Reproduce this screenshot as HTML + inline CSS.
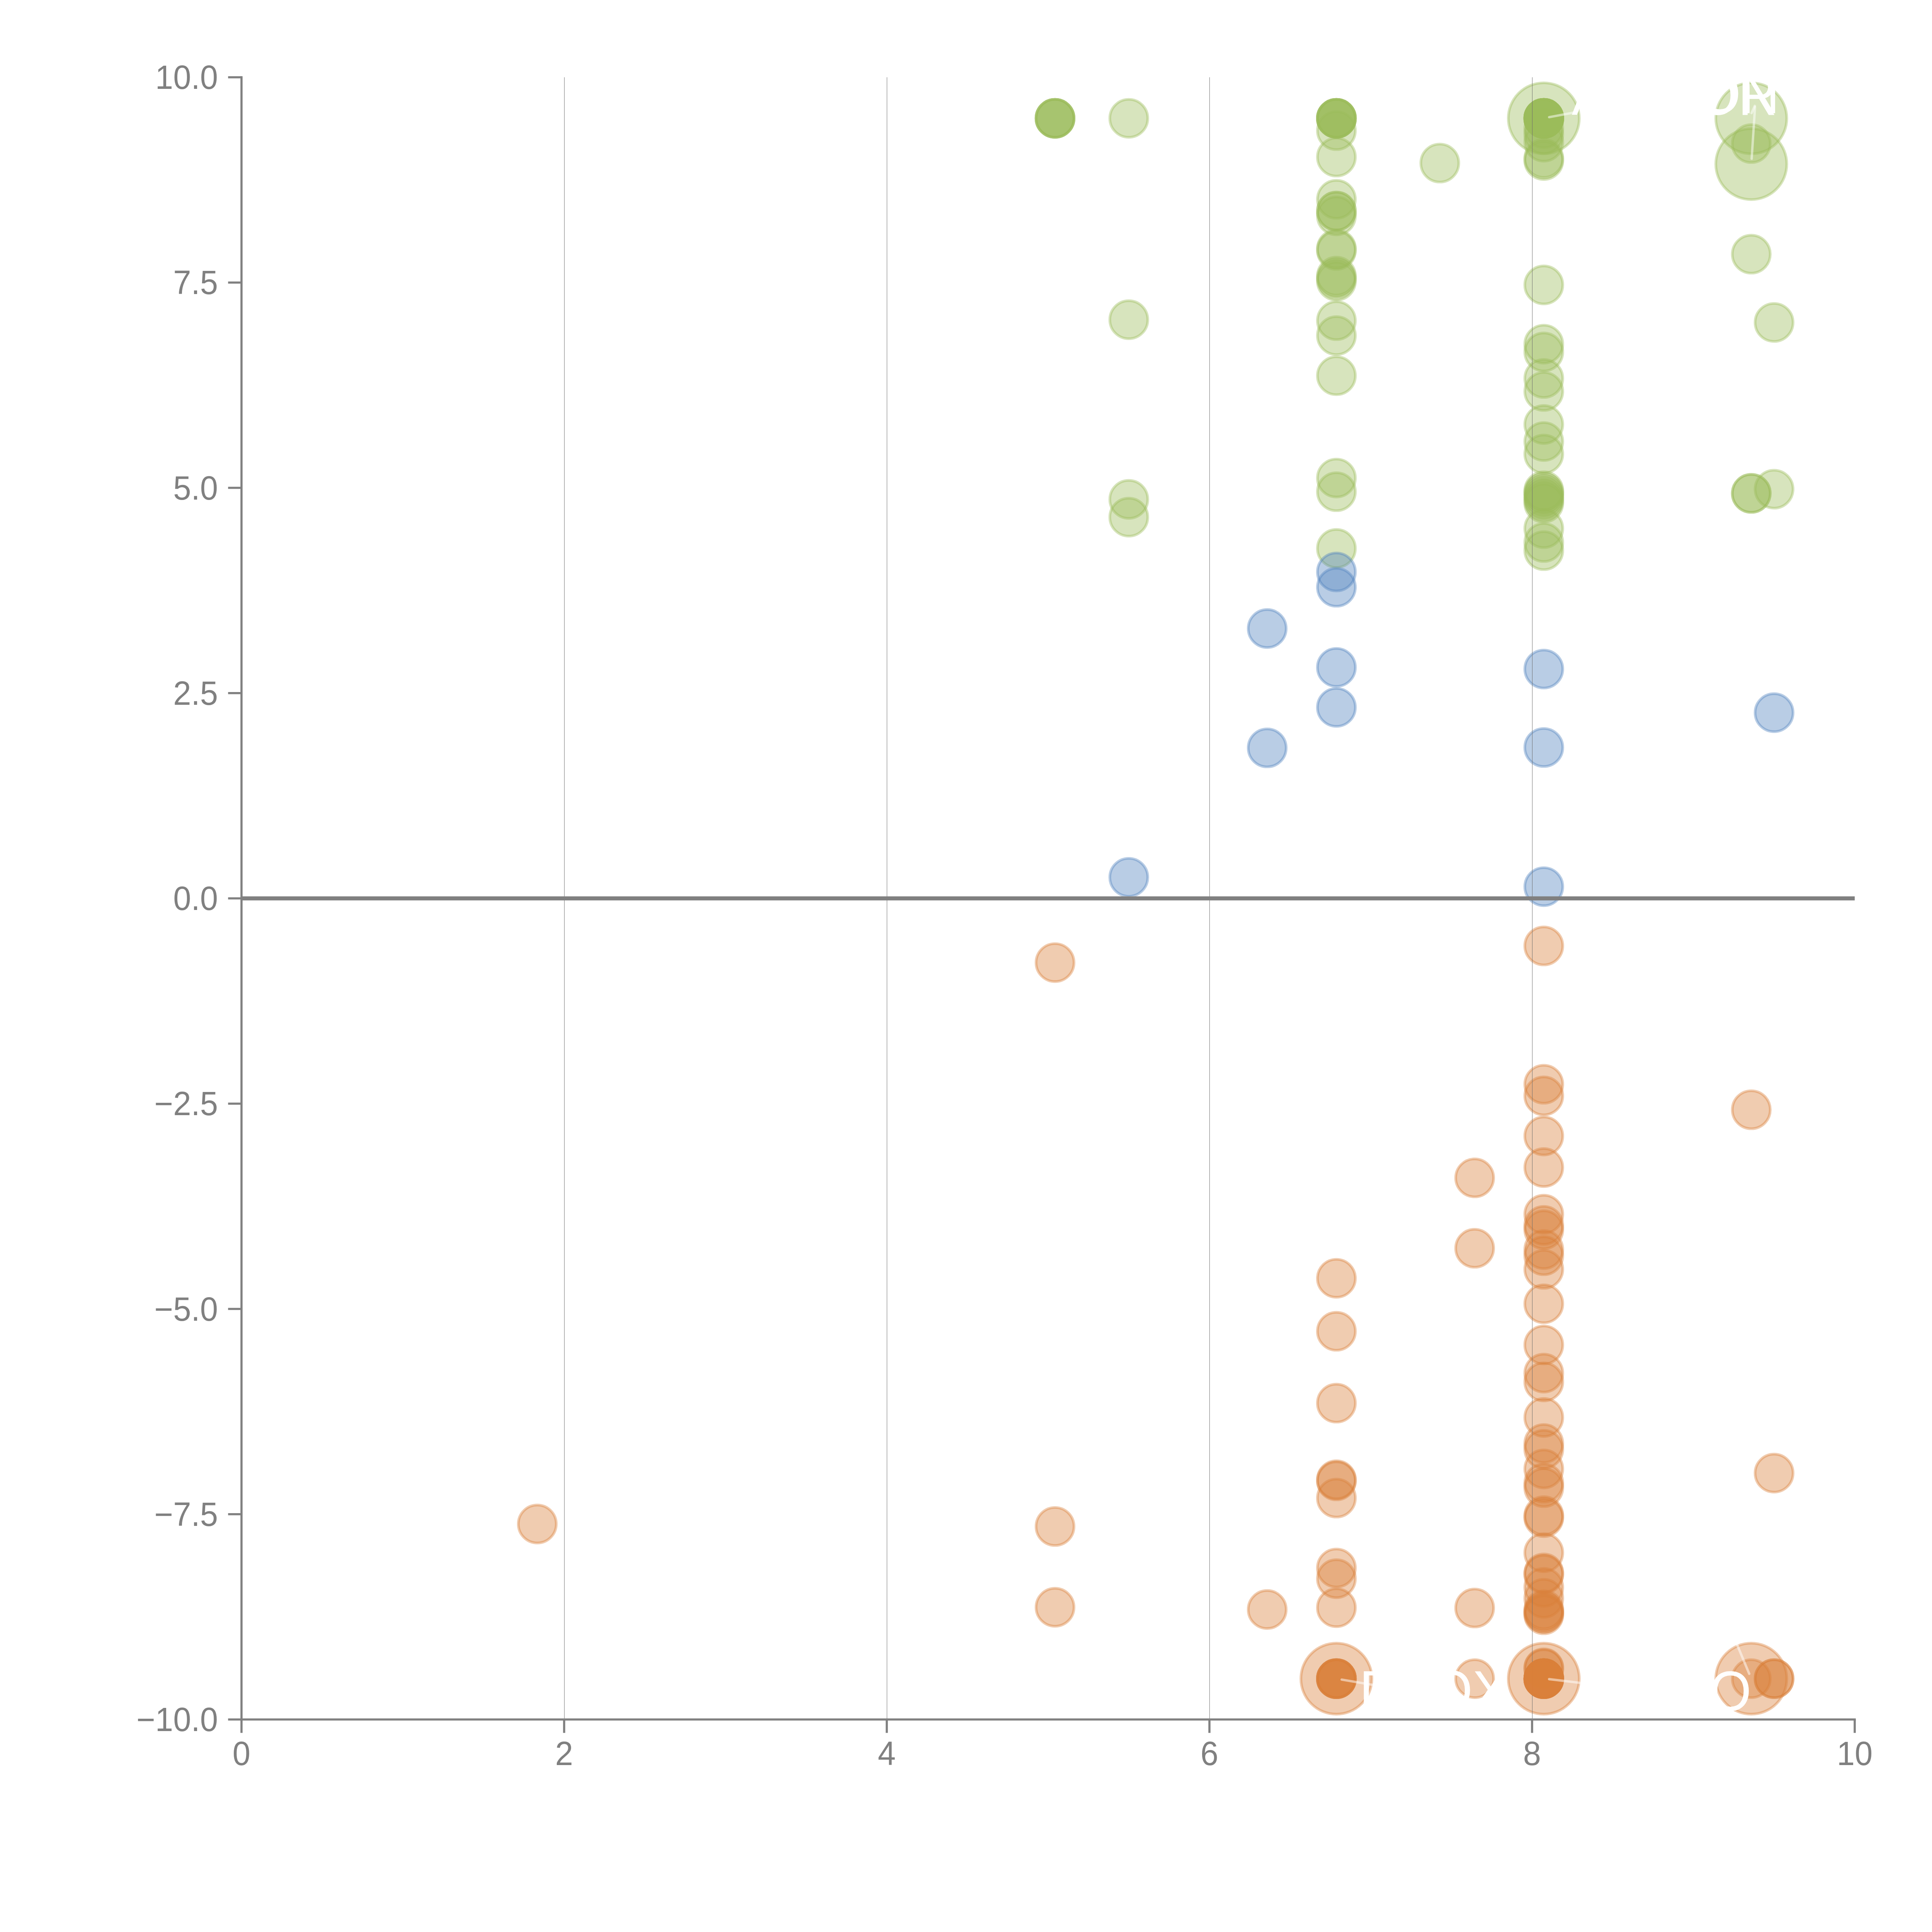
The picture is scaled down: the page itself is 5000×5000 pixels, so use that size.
<!DOCTYPE html>
<html lang="en"><head><meta charset="utf-8"><title>Scatter</title>
<style>html,body{margin:0;padding:0;background:#fff}body{width:5000px;height:5000px;overflow:hidden}svg{display:block}.tk{font-family:"Liberation Sans",Arial,sans-serif;font-size:83.33px;fill:#808080}.lb{font-family:"Liberation Sans",Arial,sans-serif;font-size:138.9px;fill:#fff}</style></head><body>
<svg width="5000" height="5000" viewBox="0 0 5000 5000">
<rect width="5000" height="5000" fill="#fff"/>
<g fill="#9BBB59" fill-opacity="0.4" stroke="#9BBB59" stroke-opacity="0.4" stroke-width="6.94">
<circle cx="2730.4" cy="306.2" r="49.1"/>
<circle cx="2730.4" cy="306.2" r="49.1"/>
<circle cx="2730.4" cy="306.2" r="49.1"/>
<circle cx="2730.4" cy="306.2" r="49.1"/>
<circle cx="2921.3" cy="306.2" r="49.1"/>
<circle cx="2921.3" cy="827.4" r="49.1"/>
<circle cx="2921.3" cy="1292.4" r="49.1"/>
<circle cx="2921.3" cy="1338.4" r="49.1"/>
<circle cx="3458.6" cy="338.0" r="49.1"/>
<circle cx="3458.6" cy="406.5" r="49.1"/>
<circle cx="3458.6" cy="515.8" r="49.1"/>
<circle cx="3458.6" cy="546.3" r="49.1"/>
<circle cx="3458.6" cy="546.3" r="49.1"/>
<circle cx="3458.6" cy="558.7" r="49.1"/>
<circle cx="3458.6" cy="644.0" r="49.1"/>
<circle cx="3458.6" cy="648.0" r="49.1"/>
<circle cx="3458.6" cy="714.6" r="49.1"/>
<circle cx="3458.6" cy="720.3" r="49.1"/>
<circle cx="3458.6" cy="727.6" r="49.1"/>
<circle cx="3458.6" cy="829.8" r="49.1"/>
<circle cx="3458.6" cy="868.5" r="49.1"/>
<circle cx="3458.6" cy="972.3" r="49.1"/>
<circle cx="3458.6" cy="1237.2" r="49.1"/>
<circle cx="3458.6" cy="1272.5" r="49.1"/>
<circle cx="3458.6" cy="1419.4" r="49.1"/>
<circle cx="3458.6" cy="306.2" r="49.1"/>
<circle cx="3458.6" cy="306.2" r="49.1"/>
<circle cx="3458.6" cy="306.2" r="49.1"/>
<circle cx="3458.6" cy="306.2" r="49.1"/>
<circle cx="3458.6" cy="306.2" r="49.1"/>
<circle cx="3726.2" cy="422.0" r="49.1"/>
<circle cx="3995.3" cy="306.2" r="91.85"/>
<circle cx="3995.3" cy="332.9" r="49.1"/>
<circle cx="3995.3" cy="348.1" r="49.1"/>
<circle cx="3995.3" cy="367.9" r="49.1"/>
<circle cx="3995.3" cy="409.9" r="49.1"/>
<circle cx="3995.3" cy="415.4" r="49.1"/>
<circle cx="3995.3" cy="737.4" r="49.1"/>
<circle cx="3995.3" cy="890.7" r="49.1"/>
<circle cx="3995.3" cy="910.9" r="49.1"/>
<circle cx="3995.3" cy="979.5" r="49.1"/>
<circle cx="3995.3" cy="1013.0" r="49.1"/>
<circle cx="3995.3" cy="1098.6" r="49.1"/>
<circle cx="3995.3" cy="1142.7" r="49.1"/>
<circle cx="3995.3" cy="1175.0" r="49.1"/>
<circle cx="3995.3" cy="1270.0" r="49.1"/>
<circle cx="3995.3" cy="1275.0" r="49.1"/>
<circle cx="3995.3" cy="1281.0" r="49.1"/>
<circle cx="3995.3" cy="1288.0" r="49.1"/>
<circle cx="3995.3" cy="1295.0" r="49.1"/>
<circle cx="3995.3" cy="1302.0" r="49.1"/>
<circle cx="3995.3" cy="1368.0" r="49.1"/>
<circle cx="3995.3" cy="1404.0" r="49.1"/>
<circle cx="3995.3" cy="1425.0" r="49.1"/>
<circle cx="3995.3" cy="306.2" r="49.1"/>
<circle cx="3995.3" cy="306.2" r="49.1"/>
<circle cx="3995.3" cy="306.2" r="49.1"/>
<circle cx="3995.3" cy="306.2" r="49.1"/>
<circle cx="3995.3" cy="306.2" r="49.1"/>
<circle cx="3995.3" cy="306.2" r="49.1"/>
<circle cx="3995.3" cy="306.2" r="49.1"/>
<circle cx="3995.3" cy="306.2" r="49.1"/>
<circle cx="4532.3" cy="306.2" r="91.85"/>
<circle cx="4532.3" cy="424.6" r="91.85"/>
<circle cx="4532.3" cy="371.5" r="49.1"/>
<circle cx="4532.3" cy="657.8" r="49.1"/>
<circle cx="4532.3" cy="1276.8" r="49.1"/>
<circle cx="4532.3" cy="1276.8" r="49.1"/>
<circle cx="4591.3" cy="834.5" r="49.1"/>
<circle cx="4591.3" cy="1266.0" r="49.1"/>
</g>
<g fill="#4F81BD" fill-opacity="0.4" stroke="#4F81BD" stroke-opacity="0.4" stroke-width="6.94">
<circle cx="3279.5" cy="1626.6" r="49.1"/>
<circle cx="3279.5" cy="1935.5" r="49.1"/>
<circle cx="2921.3" cy="2270.5" r="49.1"/>
<circle cx="3458.6" cy="1480.2" r="49.1"/>
<circle cx="3458.6" cy="1519.8" r="49.1"/>
<circle cx="3458.6" cy="1727.2" r="49.1"/>
<circle cx="3458.6" cy="1830.7" r="49.1"/>
<circle cx="3995.3" cy="1731.5" r="49.1"/>
<circle cx="3995.3" cy="1934.5" r="49.1"/>
<circle cx="3995.3" cy="2294.7" r="49.1"/>
<circle cx="4591.3" cy="1844.4" r="49.1"/>
</g>
<g fill="#D9803A" fill-opacity="0.4" stroke="#D9803A" stroke-opacity="0.4" stroke-width="6.94">
<circle cx="1390.5" cy="3944.1" r="49.1"/>
<circle cx="2730.4" cy="2491.2" r="49.1"/>
<circle cx="2730.4" cy="3950.5" r="49.1"/>
<circle cx="2730.4" cy="4159.6" r="49.1"/>
<circle cx="3279.5" cy="4165.4" r="49.1"/>
<circle cx="3458.6" cy="4344.4" r="91.85"/>
<circle cx="3458.6" cy="3308.2" r="49.1"/>
<circle cx="3458.6" cy="3445.3" r="49.1"/>
<circle cx="3458.6" cy="3631.3" r="49.1"/>
<circle cx="3458.6" cy="3829.5" r="49.1"/>
<circle cx="3458.6" cy="3832.5" r="49.1"/>
<circle cx="3458.6" cy="3877.0" r="49.1"/>
<circle cx="3458.6" cy="4058.0" r="49.1"/>
<circle cx="3458.6" cy="4085.6" r="49.1"/>
<circle cx="3458.6" cy="4160.7" r="49.1"/>
<circle cx="3458.6" cy="4344.4" r="49.1"/>
<circle cx="3458.6" cy="4344.4" r="49.1"/>
<circle cx="3458.6" cy="4344.4" r="49.1"/>
<circle cx="3458.6" cy="4344.4" r="49.1"/>
<circle cx="3458.6" cy="4344.4" r="49.1"/>
<circle cx="3816.4" cy="3048.3" r="49.1"/>
<circle cx="3816.4" cy="3230.5" r="49.1"/>
<circle cx="3816.4" cy="4161.5" r="49.1"/>
<circle cx="3816.4" cy="4344.4" r="49.1"/>
<circle cx="3995.3" cy="4344.4" r="91.85"/>
<circle cx="3995.3" cy="2448.0" r="49.1"/>
<circle cx="3995.3" cy="2806.0" r="49.1"/>
<circle cx="3995.3" cy="2836.1" r="49.1"/>
<circle cx="3995.3" cy="2939.9" r="49.1"/>
<circle cx="3995.3" cy="3021.6" r="49.1"/>
<circle cx="3995.3" cy="3142.4" r="49.1"/>
<circle cx="3995.3" cy="3171.2" r="49.1"/>
<circle cx="3995.3" cy="3182.6" r="49.1"/>
<circle cx="3995.3" cy="3233.9" r="49.1"/>
<circle cx="3995.3" cy="3249.8" r="49.1"/>
<circle cx="3995.3" cy="3285.0" r="49.1"/>
<circle cx="3995.3" cy="3374.2" r="49.1"/>
<circle cx="3995.3" cy="3480.7" r="49.1"/>
<circle cx="3995.3" cy="3553.6" r="49.1"/>
<circle cx="3995.3" cy="3576.4" r="49.1"/>
<circle cx="3995.3" cy="3668.4" r="49.1"/>
<circle cx="3995.3" cy="3735.7" r="49.1"/>
<circle cx="3995.3" cy="3750.7" r="49.1"/>
<circle cx="3995.3" cy="3801.6" r="49.1"/>
<circle cx="3995.3" cy="3838.0" r="49.1"/>
<circle cx="3995.3" cy="3850.0" r="49.1"/>
<circle cx="3995.3" cy="3922.5" r="49.1"/>
<circle cx="3995.3" cy="3927.6" r="49.1"/>
<circle cx="3995.3" cy="4018.4" r="49.1"/>
<circle cx="3995.3" cy="4070.9" r="49.1"/>
<circle cx="3995.3" cy="4074.5" r="49.1"/>
<circle cx="3995.3" cy="4108.1" r="49.1"/>
<circle cx="3995.3" cy="4136.4" r="49.1"/>
<circle cx="3995.3" cy="4166.0" r="49.1"/>
<circle cx="3995.3" cy="4171.0" r="49.1"/>
<circle cx="3995.3" cy="4175.0" r="49.1"/>
<circle cx="3995.3" cy="4179.0" r="49.1"/>
<circle cx="3995.3" cy="4316.4" r="49.1"/>
<circle cx="3995.3" cy="4318.6" r="49.1"/>
<circle cx="4532.3" cy="4344.4" r="91.85"/>
<circle cx="4532.3" cy="2872.0" r="49.1"/>
<circle cx="4532.3" cy="4344.4" r="49.1"/>
<circle cx="4591.3" cy="3812.4" r="49.1"/>
<circle cx="4591.3" cy="4344.4" r="49.1"/>
<circle cx="4591.3" cy="4344.4" r="49.1"/>
</g>
<g stroke="#6e6e6e" stroke-width="1" shape-rendering="crispEdges">
<line x1="1460.5" y1="200.0" x2="1460.5" y2="4450.0"/>
<line x1="2295.5" y1="200.0" x2="2295.5" y2="4450.0"/>
<line x1="3130.5" y1="200.0" x2="3130.5" y2="4450.0"/>
<line x1="3965.5" y1="200.0" x2="3965.5" y2="4450.0"/>
</g>
<g fill="#D9803A" fill-opacity="0.4" stroke="#D9803A" stroke-opacity="0.4" stroke-width="6.94">
<circle cx="3995.3" cy="4344.4" r="49.1"/>
<circle cx="3995.3" cy="4344.4" r="49.1"/>
<circle cx="3995.3" cy="4344.4" r="49.1"/>
<circle cx="3995.3" cy="4344.4" r="49.1"/>
<circle cx="3995.3" cy="4344.4" r="49.1"/>
<circle cx="3995.3" cy="4344.4" r="49.1"/>
<circle cx="3995.3" cy="4344.4" r="49.1"/>
<circle cx="3995.3" cy="4344.4" r="49.1"/>
</g>
<line x1="625.0" y1="2325.0" x2="4800.0" y2="2325.0" stroke="#808080" stroke-width="10.4"/>
<g stroke="#808080" stroke-width="5.56" stroke-linecap="butt">
<line x1="625.0" y1="197.22" x2="625.0" y2="4452.78"/>
<line x1="622.22" y1="4450.0" x2="4802.78" y2="4450.0"/>
<line x1="625.0" y1="4450.0" x2="625.0" y2="4484.7"/>
<line x1="1460.0" y1="4450.0" x2="1460.0" y2="4484.7"/>
<line x1="2295.0" y1="4450.0" x2="2295.0" y2="4484.7"/>
<line x1="3130.0" y1="4450.0" x2="3130.0" y2="4484.7"/>
<line x1="3965.0" y1="4450.0" x2="3965.0" y2="4484.7"/>
<line x1="4800.0" y1="4450.0" x2="4800.0" y2="4484.7"/>
<line x1="590.3" y1="200.0" x2="625.0" y2="200.0"/>
<line x1="590.3" y1="731.2" x2="625.0" y2="731.2"/>
<line x1="590.3" y1="1262.5" x2="625.0" y2="1262.5"/>
<line x1="590.3" y1="1793.8" x2="625.0" y2="1793.8"/>
<line x1="590.3" y1="2325.0" x2="625.0" y2="2325.0"/>
<line x1="590.3" y1="2856.2" x2="625.0" y2="2856.2"/>
<line x1="590.3" y1="3387.5" x2="625.0" y2="3387.5"/>
<line x1="590.3" y1="3918.8" x2="625.0" y2="3918.8"/>
<line x1="590.3" y1="4450.0" x2="625.0" y2="4450.0"/>
</g>
<g class="tk" text-anchor="middle">
<text transform="translate(625.0,4568) scale(1,1.0405)">0</text>
<text transform="translate(1460.0,4568) scale(1,1.0405)">2</text>
<text transform="translate(2295.0,4568) scale(1,1.0405)">4</text>
<text transform="translate(3130.0,4568) scale(1,1.0405)">6</text>
<text transform="translate(3965.0,4568) scale(1,1.0405)">8</text>
<text transform="translate(4800.0,4568) scale(1,1.0405)">10</text>
</g>
<g class="tk" text-anchor="end">
<text transform="translate(564,230.1) scale(1,1.0405)">10.0</text>
<text transform="translate(564,761.4) scale(1,1.0405)">7.5</text>
<text transform="translate(564,1292.6) scale(1,1.0405)">5.0</text>
<text transform="translate(564,1823.8) scale(1,1.0405)">2.5</text>
<text transform="translate(564,2355.1) scale(1,1.0405)">0.0</text>
<text transform="translate(564,2886.3) scale(1,1.0405)">−2.5</text>
<text transform="translate(564,3417.6) scale(1,1.0405)">−5.0</text>
<text transform="translate(564,3948.8) scale(1,1.0405)">−7.5</text>
<text transform="translate(564,4480.1) scale(1,1.0405)">−10.0</text>
</g>
<g stroke="#fff" stroke-opacity="0.5" stroke-width="6.2" stroke-linecap="round" fill="none">
<line x1="4009.2" y1="303.2" x2="4071" y2="291.6"/>
<line x1="4533.3" y1="410.7" x2="4542" y2="277"/>
<line x1="4533.2" y1="292.6" x2="4541.4" y2="274"/>
<line x1="3472.2" y1="4346.8" x2="3562" y2="4362"/>
<line x1="4009.2" y1="4345.6" x2="4100" y2="4356.6"/>
<line x1="4527" y1="4331.7" x2="4490" y2="4243"/>
</g>
<g class="lb">
<text transform="translate(4067.7,297) scale(1,1.0405)">A</text>
<text transform="translate(4390.5,296.8) scale(1,1.0405)">OR</text>
<text transform="translate(4396.9,293.3) scale(1,1.0405)">ON</text>
<text transform="translate(3518.3,4424.5) scale(1,1.0405)">D</text>
<text transform="translate(3703,4424.5) scale(1,1.0405)">OX</text>
<text transform="translate(4424.5,4426.8) scale(1,1.0405)">O</text>
</g>
</svg></body></html>
